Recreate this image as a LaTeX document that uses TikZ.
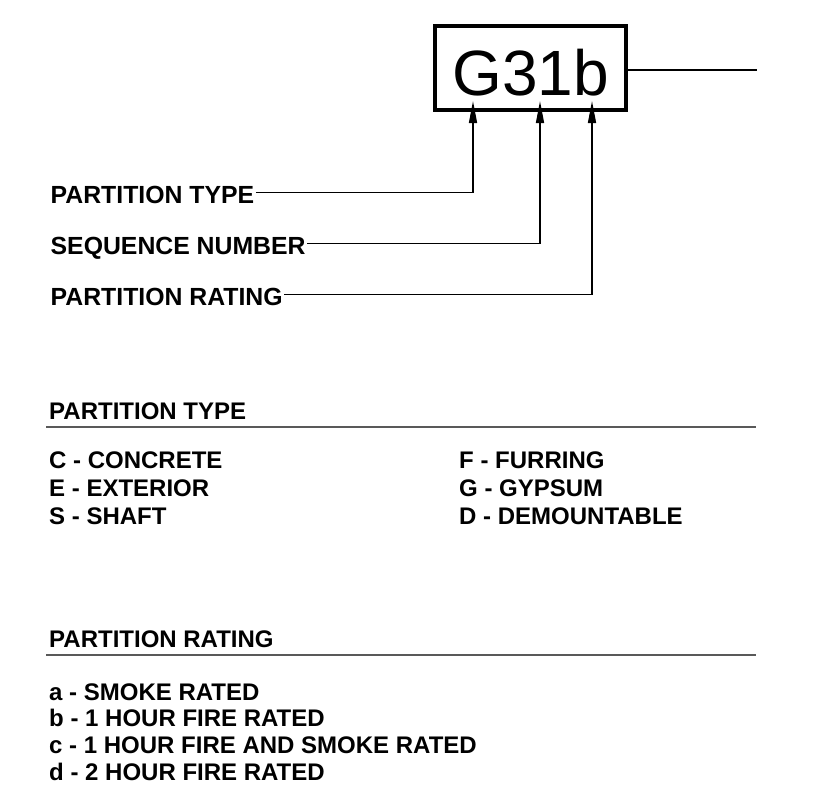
\documentclass[tikz,border=0pt]{standalone}
\usepackage{fontspec}
\setmainfont{Liberation Sans}
\usetikzlibrary{positioning,arrows.meta}

\begin{document}
\begin{tikzpicture}[
x=1pt, y=-1pt,
tag/.style={draw, line width=4pt, minimum width=191pt, minimum height=84pt, inner sep=0pt, text height=55pt, text depth=0pt, font=\fontsize{64}{64}\selectfont},
lbl/.style={inner sep=1.5pt, text height=21pt, text depth=0pt, font=\fontsize{24.8}{24.8}\selectfont\bfseries},
item/.style={inner sep=0pt, text height=17pt, text depth=0pt, font=\fontsize{24}{24}\selectfont\bfseries},
lead/.style={line width=1.5pt},
arrow/.style={-{Triangle[length=22pt,width=8pt]}, line width=1.5pt},
rule/.style={line width=2.5pt, black!65}
]
\useasboundingbox (0,0) rectangle (824,808);

% tag and its pointers
\node[tag] (tag) at (530.5,68) {G31b};
\coordinate (tagend) at ([xshift=129pt, yshift=-2pt]tag.east);
\coordinate (tipg) at ([xshift=-57.5pt, yshift=11pt]tag.south);
\coordinate (tipn) at ([xshift=9.5pt, yshift=11pt]tag.south);
\coordinate (tipr) at ([xshift=61.5pt, yshift=11pt]tag.south);
\draw[lead] ([yshift=-2pt]tag.east) -- (tagend);

\node[lbl, anchor=base west] (ptype) at (49,203) {PARTITION TYPE};
\node[lbl, below=51pt of ptype.base west, anchor=base west] (seqnum) {SEQUENCE NUMBER};
\node[lbl, below=51pt of seqnum.base west, anchor=base west] (prating) {PARTITION RATING};
\draw[arrow] (ptype.east) -| (tipg);
\draw[arrow] (seqnum.east) -| (tipn);
\draw[arrow] (prating.east) -| (tipr);

% partition type legend
\node[item, anchor=base west] (htype) at (49,419) {PARTITION TYPE};
\draw[rule] ([shift={(-3pt,-8pt)}]htype.base west) -- ++(710,0);
\node[item, below=49pt of htype.base west, anchor=base west] (tc) {C - CONCRETE};
\node[item, below=28pt of tc.base west, anchor=base west] (te) {E - EXTERIOR};
\node[item, below=28pt of te.base west, anchor=base west] (ts) {S - SHAFT};
\node[item, right=410pt of tc.base west, anchor=base west] (tf) {F - FURRING};
\node[item, below=28pt of tf.base west, anchor=base west] (tg) {G - GYPSUM};
\node[item, below=28pt of tg.base west, anchor=base west] (td) {D - DEMOUNTABLE};

% partition rating legend
\node[item, anchor=base west] (hrating) at (49,647) {PARTITION RATING};
\draw[rule] ([shift={(-3pt,-8pt)}]hrating.base west) -- ++(710,0);
\node[item, below=53pt of hrating.base west, anchor=base west] (ra) {a - SMOKE RATED};
\node[item, below=26.7pt of ra.base west, anchor=base west] (rb) {b - 1 HOUR FIRE RATED};
\node[item, below=26.7pt of rb.base west, anchor=base west] (rc) {c - 1 HOUR FIRE AND SMOKE RATED};
\node[item, below=26.7pt of rc.base west, anchor=base west] (rd) {d - 2 HOUR FIRE RATED};
\end{tikzpicture}
\end{document}
